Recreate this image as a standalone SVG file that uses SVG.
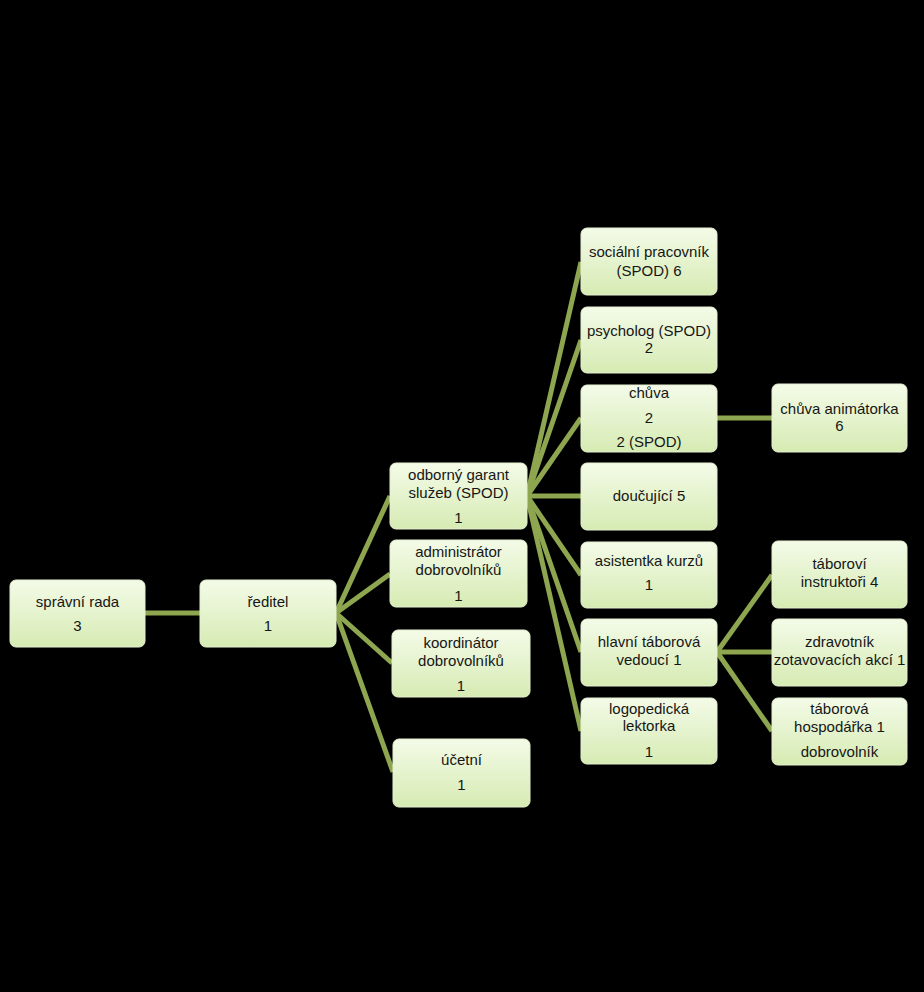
<svg xmlns="http://www.w3.org/2000/svg" width="924" height="992" viewBox="0 0 924 992">
<defs>
<linearGradient id="g" x1="0" y1="0" x2="0" y2="1">
<stop offset="0" stop-color="#f4fbe8"/>
<stop offset="1" stop-color="#d6ebb3"/>
</linearGradient>
<style>
.n rect{fill:url(#g);stroke:#e4f0cf;stroke-width:1}
.n text{font-family:"Liberation Sans",Arial,sans-serif;font-size:15px;fill:#161616;text-anchor:middle}
#connectors line{stroke:#8ea64f;stroke-width:5;stroke-linecap:butt}
</style>
</defs>
<rect width="924" height="992" fill="#000"/>
<g id="connectors">
<line x1="145" y1="613" x2="200" y2="613"/>
<line x1="336" y1="613" x2="390" y2="496"/>
<line x1="336" y1="613" x2="390" y2="574"/>
<line x1="336" y1="613" x2="392" y2="663"/>
<line x1="336" y1="613" x2="393" y2="772"/>
<line x1="527" y1="496" x2="581" y2="262"/>
<line x1="527" y1="496" x2="581" y2="340"/>
<line x1="527" y1="496" x2="581" y2="418"/>
<line x1="527" y1="496" x2="581" y2="496"/>
<line x1="527" y1="496" x2="581" y2="575"/>
<line x1="527" y1="496" x2="581" y2="652"/>
<line x1="527" y1="496" x2="581" y2="731"/>
<line x1="717" y1="418" x2="772" y2="418"/>
<line x1="717" y1="652" x2="772" y2="575"/>
<line x1="717" y1="652" x2="772" y2="652"/>
<line x1="717" y1="652" x2="772" y2="731"/>
</g>
<g id="spravni-rada" class="n"><rect x="10" y="580" width="135" height="67" rx="6"/><text x="77.5" y="607">správní rada</text><text x="77.5" y="631">3</text></g>
<g id="reditel" class="n"><rect x="200" y="580" width="136" height="67" rx="6"/><text x="268" y="607">ředitel</text><text x="268" y="631">1</text></g>
<g id="odborny-garant" class="n"><rect x="390" y="463" width="137" height="66" rx="6"/><text x="458.5" y="480">odborný garant</text><text x="458.5" y="498">služeb (SPOD)</text><text x="458.5" y="523">1</text></g>
<g id="administrator" class="n"><rect x="390" y="540" width="137" height="67" rx="6"/><text x="458.5" y="557">administrátor</text><text x="458.5" y="575">dobrovolníků</text><text x="458.5" y="601">1</text></g>
<g id="koordinator" class="n"><rect x="392" y="630" width="138" height="67" rx="6"/><text x="461" y="648">koordinátor</text><text x="461" y="666">dobrovolníků</text><text x="461" y="691">1</text></g>
<g id="ucetni" class="n"><rect x="393" y="739" width="137" height="68" rx="6"/><text x="461.5" y="765">účetní</text><text x="461.5" y="790">1</text></g>
<g id="socialni" class="n"><rect x="581" y="228" width="136" height="67" rx="6"/><text x="649" y="257">sociální pracovník</text><text x="649" y="276">(SPOD) 6</text></g>
<g id="psycholog" class="n"><rect x="581" y="307" width="136" height="66" rx="6"/><text x="649" y="336">psycholog (SPOD)</text><text x="649" y="353">2</text></g>
<g id="chuva" class="n"><rect x="581" y="385" width="136" height="67" rx="6"/><text x="649" y="398">chůva</text><text x="649" y="423">2</text><text x="649" y="447">2 (SPOD)</text></g>
<g id="doucujici" class="n"><rect x="581" y="463" width="136" height="67" rx="6"/><text x="649" y="501">doučující 5</text></g>
<g id="asistentka" class="n"><rect x="581" y="542" width="136" height="66" rx="6"/><text x="649" y="566">asistentka kurzů</text><text x="649" y="590">1</text></g>
<g id="hlavni-taborova" class="n"><rect x="581" y="619" width="136" height="67" rx="6"/><text x="649" y="647">hlavní táborová</text><text x="649" y="665">vedoucí 1</text></g>
<g id="logopedicka" class="n"><rect x="581" y="698" width="136" height="66" rx="6"/><text x="649" y="714">logopedická</text><text x="649" y="731">lektorka</text><text x="649" y="757">1</text></g>
<g id="chuva-animatorka" class="n"><rect x="772" y="384" width="135" height="68" rx="6"/><text x="839.5" y="414">chůva animátorka</text><text x="839.5" y="431">6</text></g>
<g id="taborovi-instruktori" class="n"><rect x="772" y="541" width="135" height="67" rx="6"/><text x="839.5" y="569">táboroví</text><text x="839.5" y="587">instruktoři 4</text></g>
<g id="zdravotnik" class="n"><rect x="772" y="619" width="135" height="67" rx="6"/><text x="839.5" y="647">zdravotník</text><text x="839.5" y="665">zotavovacích akcí 1</text></g>
<g id="taborova-hospodarka" class="n"><rect x="772" y="698" width="135" height="67" rx="6"/><text x="839.5" y="714">táborová</text><text x="839.5" y="732">hospodářka 1</text><text x="839.5" y="757">dobrovolník</text></g>
</svg>
